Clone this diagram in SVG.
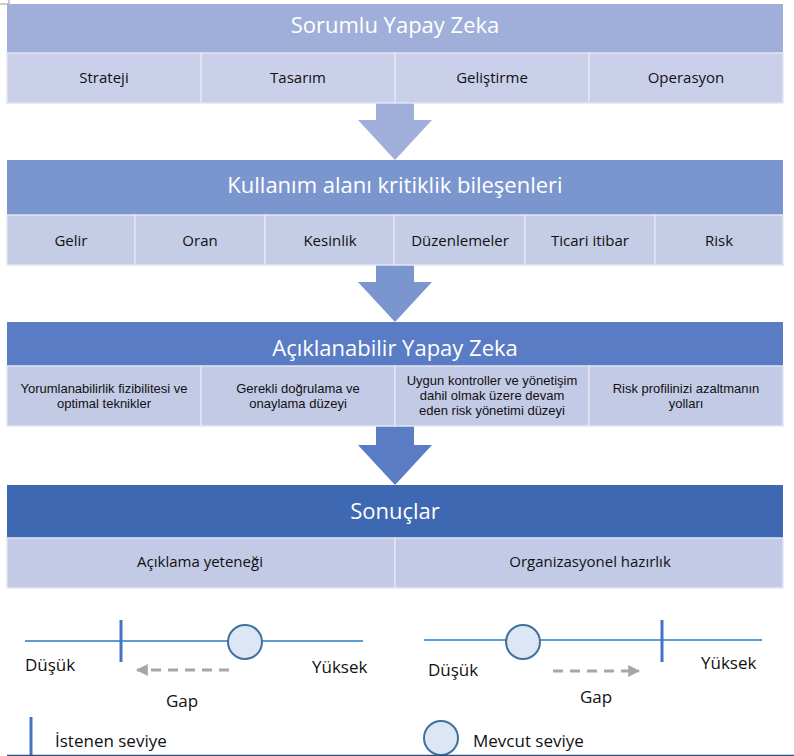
<svg xmlns="http://www.w3.org/2000/svg" width="794" height="756" viewBox="0 0 794 756">
<style>
text{font-family:"Open Sans","Liberation Sans",sans-serif;}
.h{fill:#fff;font-size:22px;text-anchor:middle;}
.c{fill:#111;font-size:15px;text-anchor:middle;}
.s{fill:#111;font-size:13px;text-anchor:middle;font-family:"Liberation Sans","Open Sans",sans-serif;}
.l{fill:#111;font-size:17px;}
.cell{stroke:#e2e6f4;stroke-width:1.5;}
.scale{stroke:#5B9BD5;stroke-width:2;fill:none;}
.tick{stroke:#4472C4;stroke-width:3;}
.cur{fill:#DCE6F4;stroke:#41719C;stroke-width:2;}
.gap{stroke:#A6A6A6;stroke-width:3;stroke-dasharray:10 7;fill:none;}
</style>
<defs>
<marker id="ah" viewBox="0 0 10 10" refX="9" refY="5" markerWidth="4" markerHeight="4" orient="auto" markerUnits="strokeWidth">
<path d="M0,0 L10,5 L0,10 z" fill="#A6A6A6"/>
</marker>
</defs>
<path d="M0,4 H9 V0" fill="none" stroke="#999" stroke-width="1"/>

<g id="connectors">
<polygon points="376,103 414,103 414,120 432,120 395,160 358,120 376,120" fill="#9FAFD9"/>
<polygon points="376,265 414,265 414,282 432,282 395,322 358,282 376,282" fill="#7B96CE"/>
<polygon points="376,426 414,426 414,445 432,445 395,485 358,445 376,445" fill="#5A7CC5"/>
<line class="gap" x1="229" y1="670" x2="137" y2="670" marker-end="url(#ah)"/>
<line class="gap" x1="553" y1="671" x2="639" y2="671" marker-end="url(#ah)"/>
</g>

<g id="sorumlu">
<rect x="7" y="4" width="776" height="49" fill="#9FAFD9"/>
<text class="h" x="395" y="33">Sorumlu Yapay Zeka</text>
<g fill="#CACFEA">
<rect class="cell" x="7" y="53" width="194" height="50"/>
<rect class="cell" x="201" y="53" width="194" height="50"/>
<rect class="cell" x="395" y="53" width="194" height="50"/>
<rect class="cell" x="589" y="53" width="194" height="50"/>
</g>
<text class="c" x="104" y="83">Strateji</text>
<text class="c" x="298" y="83">Tasarım</text>
<text class="c" x="492" y="83">Geliştirme</text>
<text class="c" x="686" y="83">Operasyon</text>
</g>

<g id="kritiklik">
<rect x="7" y="160" width="776" height="55" fill="#7B96CE"/>
<text class="h" x="395" y="193">Kullanım alanı kritiklik bileşenleri</text>
<g fill="#C5CCE6">
<rect class="cell" x="7" y="215" width="128" height="50"/>
<rect class="cell" x="135" y="215" width="130" height="50"/>
<rect class="cell" x="265" y="215" width="129" height="50"/>
<rect class="cell" x="394" y="215" width="131" height="50"/>
<rect class="cell" x="525" y="215" width="130" height="50"/>
<rect class="cell" x="655" y="215" width="128" height="50"/>
</g>
<text class="c" x="71" y="246">Gelir</text>
<text class="c" x="200" y="246">Oran</text>
<text class="c" x="330" y="246">Kesinlik</text>
<text class="c" x="460" y="246">Düzenlemeler</text>
<text class="c" x="590" y="246">Ticari itibar</text>
<text class="c" x="719" y="246">Risk</text>
</g>

<g id="aciklanabilir">
<rect x="7" y="322" width="776" height="44" fill="#5A7CC5"/>
<text class="h" x="395" y="356">Açıklanabilir Yapay Zeka</text>
<g fill="#C3CAE5">
<rect class="cell" x="7" y="366" width="194" height="60"/>
<rect class="cell" x="201" y="366" width="194" height="60"/>
<rect class="cell" x="395" y="366" width="194" height="60"/>
<rect class="cell" x="589" y="366" width="194" height="60"/>
</g>
<text class="s" x="104" y="393">Yorumlanabilirlik fizibilitesi ve</text>
<text class="s" x="104" y="408">optimal teknikler</text>
<text class="s" x="298" y="393">Gerekli doğrulama ve</text>
<text class="s" x="298" y="408">onaylama düzeyi</text>
<text class="s" x="492" y="385">Uygun kontroller ve yönetişim</text>
<text class="s" x="492" y="400">dahil olmak üzere devam</text>
<text class="s" x="492" y="415">eden risk yönetimi düzeyi</text>
<text class="s" x="686" y="393">Risk profilinizi azaltmanın</text>
<text class="s" x="686" y="408">yolları</text>
</g>

<g id="sonuclar">
<rect x="7" y="485" width="776" height="53" fill="#3E68B1"/>
<text class="h" x="395" y="519">Sonuçlar</text>
<g fill="#C3CAE5">
<rect class="cell" x="7" y="538" width="388" height="50"/>
<rect class="cell" x="395" y="538" width="388" height="50"/>
</g>
<text class="c" x="200" y="567">Açıklama yeteneği</text>
<text class="c" x="590" y="567">Organizasyonel hazırlık</text>
</g>

<g id="scale-left">
<line class="scale" x1="25" y1="641" x2="363" y2="641"/>
<line class="tick" x1="121" y1="620" x2="121" y2="662"/>
<circle class="cur" cx="245" cy="642" r="17"/>
<text class="l" x="25" y="671">Düşük</text>
<text class="l" x="312" y="673">Yüksek</text>
<text class="l" x="166" y="707">Gap</text>
</g>

<g id="scale-right">
<line class="scale" x1="424" y1="640" x2="762" y2="640"/>
<line class="tick" x1="662" y1="620" x2="662" y2="662"/>
<circle class="cur" cx="523" cy="642" r="17"/>
<text class="l" x="428" y="676">Düşük</text>
<text class="l" x="701" y="669">Yüksek</text>
<text class="l" x="580" y="703">Gap</text>
</g>

<g id="legend">
<line class="tick" x1="31" y1="717" x2="31" y2="756"/>
<text class="l" x="55" y="747">İstenen seviye</text>
<circle class="cur" cx="441" cy="738" r="17"/>
<text class="l" x="473" y="747">Mevcut seviye</text>
</g>
<line x1="7" y1="755.5" x2="794" y2="755.5" stroke="#2F4F80" stroke-width="1.5"/>
</svg>
